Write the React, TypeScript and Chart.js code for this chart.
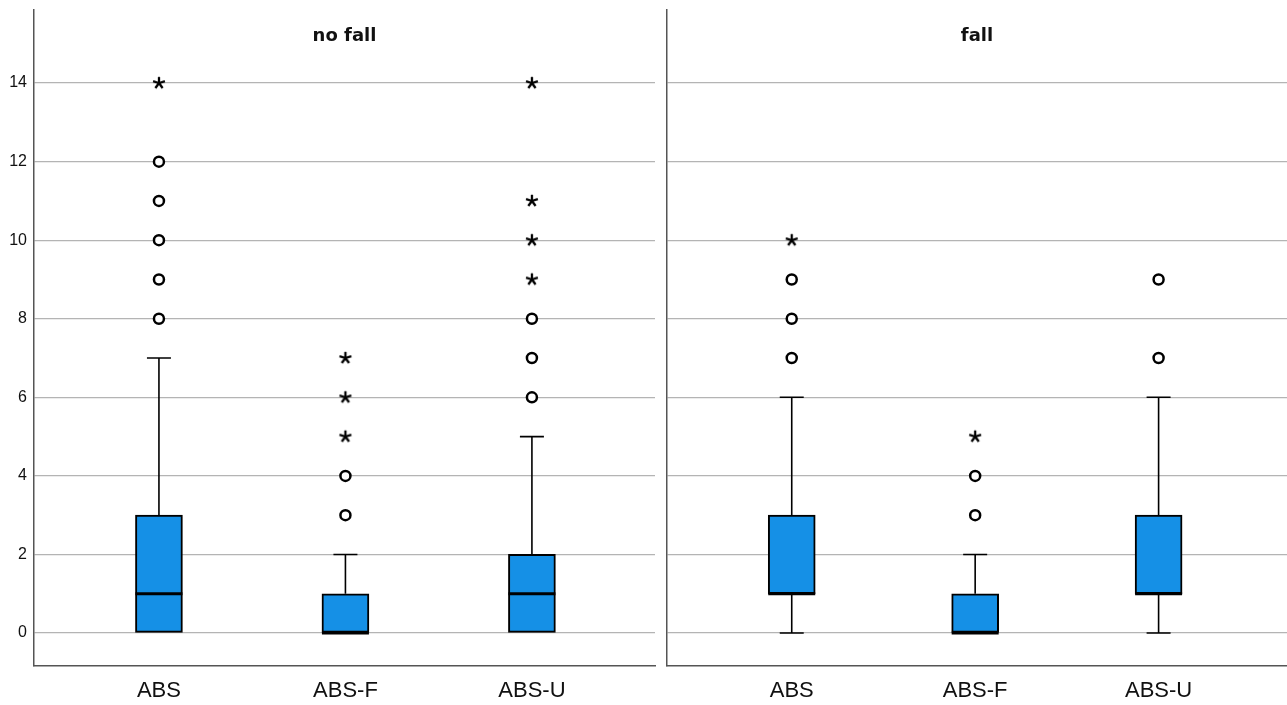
import React, { useEffect, useRef } from 'react';
import { Chart, registerables } from 'chart.js';

Chart.register(...registerables);

// ---------- data ----------
const CATEGORIES = ['ABS', 'ABS-F', 'ABS-U'];
const PANEL_TITLES = ['no fall', 'fall'];
const Y_TICKS = [0, 2, 4, 6, 8, 10, 12, 14];
const Y_MIN = -0.84;
const Y_MAX = 15.86;
const X_RANGE_LEFT = [0.33, 3.66];
const X_RANGE_RIGHT = [0.32, 3.7];

const NOFALL_MIN = [0, 0, 0];
const NOFALL_Q1 = [0, 0, 0];
const NOFALL_MEDIAN = [1, 0, 1];
const NOFALL_Q3 = [3, 1, 2];
const NOFALL_MAX = [7, 2, 5];
const NOFALL_OUTLIERS = [[8, 9, 10, 11, 12], [3, 4], [6, 7, 8]];
const NOFALL_EXTREMES = [[14], [5, 6, 7], [9, 10, 11, 14]];

const FALL_MIN = [0, 0, 0];
const FALL_Q1 = [1, 0, 1];
const FALL_MEDIAN = [1, 0, 1];
const FALL_Q3 = [3, 1, 3];
const FALL_MAX = [6, 2, 6];
const FALL_OUTLIERS = [[7, 8, 9], [3, 4], [7, 9]];
const FALL_EXTREMES = [[10], [5], []];

type PanelData = {
  title: string;
  min: number[];
  q1: number[];
  median: number[];
  q3: number[];
  max: number[];
  outliers: number[][];
  extremes: number[][];
};

const PANELS: PanelData[] = [
  {
    title: PANEL_TITLES[0],
    min: NOFALL_MIN, q1: NOFALL_Q1, median: NOFALL_MEDIAN, q3: NOFALL_Q3, max: NOFALL_MAX,
    outliers: NOFALL_OUTLIERS, extremes: NOFALL_EXTREMES,
  },
  {
    title: PANEL_TITLES[1],
    min: FALL_MIN, q1: FALL_Q1, median: FALL_MEDIAN, q3: FALL_Q3, max: FALL_MAX,
    outliers: FALL_OUTLIERS, extremes: FALL_EXTREMES,
  },
];

// ---------- styles ----------
const BOX_COLOR = '#1590e6';
const GRID_COLOR = '#b4b4b4';
const AXIS_COLOR = '#555555';
const SANS = '"Liberation Sans", Arial, sans-serif';
const TITLE_FONT = 'bold 18px "DejaVu Sans", sans-serif';
const BOX_WIDTH = 47;
const CAP_HALF = 12;

function makeStar(): HTMLCanvasElement {
  const c = document.createElement('canvas');
  c.width = 16;
  c.height = 16;
  const ctx = c.getContext('2d')!;
  ctx.strokeStyle = '#000';
  ctx.lineWidth = 2.3;
  ctx.lineCap = 'butt';
  for (let k = 0; k < 5; k++) {
    const a = -Math.PI / 2 + (k * 2 * Math.PI) / 5;
    ctx.beginPath();
    ctx.moveTo(8, 8);
    ctx.lineTo(8 + 6.2 * Math.cos(a), 8 + 6.2 * Math.sin(a));
    ctx.stroke();
  }
  return c;
}

function makePlugin(panel: PanelData) {
  return {
    id: 'boxExtras',
    beforeDatasetsDraw(chart: any) {
      const { ctx, scales } = chart;
      const x = scales.x;
      const y = scales.y;
      ctx.save();
      ctx.strokeStyle = '#000';
      ctx.lineWidth = 1.6;
      panel.q1.forEach((_, i) => {
        const px = x.getPixelForValue(i + 1);
        if (panel.max[i] > panel.q3[i]) {
          const yTop = y.getPixelForValue(panel.max[i]);
          ctx.beginPath();
          ctx.moveTo(px, y.getPixelForValue(panel.q3[i]));
          ctx.lineTo(px, yTop);
          ctx.moveTo(px - CAP_HALF, yTop);
          ctx.lineTo(px + CAP_HALF, yTop);
          ctx.stroke();
        }
        if (panel.min[i] < panel.q1[i]) {
          const yBot = y.getPixelForValue(panel.min[i]);
          ctx.beginPath();
          ctx.moveTo(px, y.getPixelForValue(panel.q1[i]));
          ctx.lineTo(px, yBot);
          ctx.moveTo(px - CAP_HALF, yBot);
          ctx.lineTo(px + CAP_HALF, yBot);
          ctx.stroke();
        }
      });
      ctx.restore();
    },
    afterDatasetsDraw(chart: any) {
      const { ctx, scales } = chart;
      const x = scales.x;
      const y = scales.y;
      ctx.save();
      ctx.strokeStyle = '#000';
      ctx.lineWidth = 3;
      panel.median.forEach((m, i) => {
        const px = x.getPixelForValue(i + 1);
        const py = y.getPixelForValue(m);
        ctx.beginPath();
        ctx.moveTo(px - BOX_WIDTH / 2, py);
        ctx.lineTo(px + BOX_WIDTH / 2, py);
        ctx.stroke();
      });
      ctx.restore();
    },
    afterDraw(chart: any) {
      const { ctx, chartArea } = chart;
      ctx.save();
      ctx.font = TITLE_FONT;
      ctx.fillStyle = '#111';
      ctx.textAlign = 'center';
      ctx.textBaseline = 'alphabetic';
      ctx.fillText(panel.title, (chartArea.left + chartArea.right) / 2, 41);
      ctx.restore();
    },
  };
}

function buildConfig(
  panel: PanelData,
  showY: boolean,
  axisWidth: number,
  padRight: number,
  xRange: number[],
  star: HTMLCanvasElement
): any {
  const boxes = panel.q1.map((q, i) => ({ x: i + 1, y: [q, panel.q3[i]] }));
  const outliers = panel.outliers.flatMap((vals, i) => vals.map((v) => ({ x: i + 1, y: v })));
  const extremes = panel.extremes.flatMap((vals, i) => vals.map((v) => ({ x: i + 1, y: v })));
  return {
    type: 'bar',
    data: {
      datasets: [
        {
          type: 'bar',
          data: boxes,
          backgroundColor: BOX_COLOR,
          borderColor: '#000',
          borderWidth: 2,
          borderSkipped: false,
          barThickness: BOX_WIDTH,
        },
        {
          type: 'scatter',
          data: outliers,
          pointStyle: 'circle',
          pointRadius: 5,
          pointBorderWidth: 2.5,
          pointBackgroundColor: '#fff',
          pointBorderColor: '#000',
        },
        {
          type: 'scatter',
          data: extremes,
          pointStyle: star,
          pointRadius: 6,
        },
      ],
    },
    options: {
      responsive: false,
      animation: false,
      events: [],
      layout: { autoPadding: false, padding: { top: 10, right: padRight, left: 0, bottom: 0 } },
      plugins: { legend: { display: false }, tooltip: { enabled: false }, title: { display: false } },
      scales: {
        x: {
          type: 'linear',
          min: xRange[0],
          max: xRange[1],
          offset: false,
          afterBuildTicks: (s: any) => {
            s.ticks = CATEGORIES.map((_, i) => ({ value: i + 1 }));
          },
          ticks: {
            callback: (v: any) => CATEGORIES[Math.round(Number(v)) - 1] ?? '',
            font: { family: SANS, size: 22 },
            color: '#111',
            padding: 12,
            maxRotation: 0,
            autoSkip: false,
          },
          grid: { display: false, drawTicks: false },
          border: { display: true, color: AXIS_COLOR, width: 1.5 },
          afterFit: (s: any) => {
            s.height = 39;
            s.paddingLeft = 0;
            s.paddingRight = 0;
            s.paddingTop = 0;
            s.paddingBottom = 0;
          },
        },
        y: {
          type: 'linear',
          min: Y_MIN,
          max: Y_MAX,
          afterBuildTicks: (s: any) => {
            s.ticks = Y_TICKS.map((v) => ({ value: v }));
          },
          ticks: {
            display: showY,
            font: { family: SANS, size: 16 },
            color: '#111',
            padding: 7,
          },
          grid: { color: GRID_COLOR, lineWidth: 1.2, drawTicks: false },
          border: { display: true, color: AXIS_COLOR, width: 1.5 },
          afterFit: (s: any) => {
            s.width = axisWidth;
            s.paddingLeft = 0;
            s.paddingRight = 0;
            s.paddingTop = 0;
            s.paddingBottom = 0;
          },
        },
      },
    },
    plugins: [makePlugin(panel)],
  };
}

export default function App() {
  const leftRef = useRef<HTMLCanvasElement | null>(null);
  const rightRef = useRef<HTMLCanvasElement | null>(null);

  useEffect(() => {
    document.body.style.margin = '0';
    document.body.style.background = '#fff';
    const star = makeStar();
    const charts: Chart[] = [];
    if (leftRef.current) {
      charts.push(new Chart(leftRef.current, buildConfig(PANELS[0], true, 34, 5, X_RANGE_LEFT, star)));
    }
    if (rightRef.current) {
      charts.push(new Chart(rightRef.current, buildConfig(PANELS[1], false, 7, 0, X_RANGE_RIGHT, star)));
    }
    return () => {
      charts.forEach((c) => c.destroy());
    };
  }, []);

  return (
    <div style={{ position: 'relative', width: 1287, height: 705, background: '#fff', overflow: 'hidden' }}>
      <canvas
        ref={leftRef}
        width={660}
        height={705}
        style={{ position: 'absolute', left: 0, top: 0, width: 660, height: 705 }}
      />
      <canvas
        ref={rightRef}
        width={627}
        height={705}
        style={{ position: 'absolute', left: 660, top: 0, width: 627, height: 705 }}
      />
    </div>
  );
}
